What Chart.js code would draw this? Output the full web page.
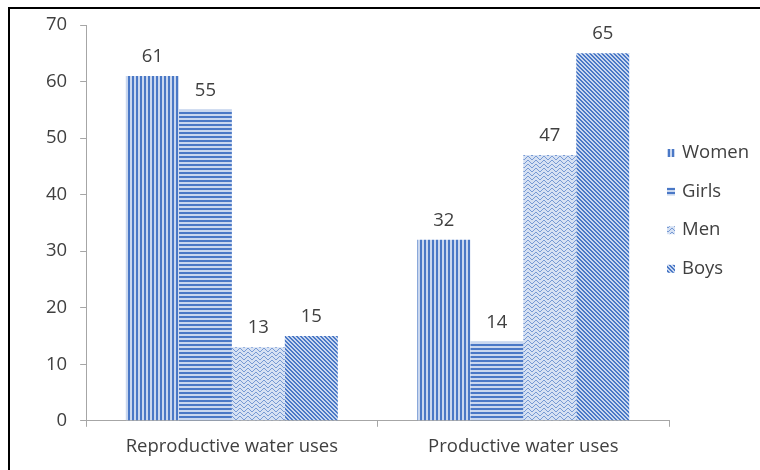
<!DOCTYPE html>
<html>
<head>
<meta charset="utf-8">
<script src="https://cdn.jsdelivr.net/npm/chart.js@4.4.1/dist/chart.umd.min.js"></script>
<style>
    html, body { margin: 0; padding: 0; background: #fff; }
    #wrap { position: relative; width: 760px; height: 470px; }
    #frame {
        position: absolute; left: 8px; top: 7px; right: -4px; bottom: -4px;
        border-left: 2px solid #000; border-top: 2px solid #000;
        pointer-events: none;
    }
    canvas { position: absolute; left: 0; top: 0; }
</style>
</head>
<body>
<div id="wrap">
    <canvas id="chart" width="760" height="470"></canvas>
    <div id="frame"></div>
</div>
<script>
const categories = ['Reproductive water uses', 'Productive water uses'];
const seriesNames = ['Women', 'Girls', 'Men', 'Boys'];
const women = [61, 32];
const girls = [55, 14];
const men = [13, 47];
const boys = [15, 65];
const yTicks = [0, 10, 20, 30, 40, 50, 60, 70];

const FONT = '"Open Sans", sans-serif';
const FONT_SIZE = 18.5;
const TEXT = '#404040';

// Small fill patterns, like the Excel pattern fills
function makePattern(kind) {
    const size = kind === 'men' ? 8 : 4;
    const c = document.createElement('canvas');
    c.width = size;
    c.height = size;
    const g = c.getContext('2d');
    const dark = '#4A78C6';
    const light = '#C9D7EF';
    g.fillStyle = light;
    g.fillRect(0, 0, size, size);
    g.fillStyle = dark;
    for (let x = 0; x < size; x++) {
        for (let y = 0; y < size; y++) {
            let on = false;
            if (kind === 'women') on = x % 4 < 2;
            if (kind === 'girls') on = y % 4 < 2;
            if (kind === 'boys') on = ((x - y) % 4 + 4) % 4 < 2;
            if (kind === 'men') {
                const zig = x < 4 ? x : 7 - x;
                on = (y === zig || y === (zig + 4) % 8);
            }
            if (on) g.fillRect(x, y, 1, 1);
        }
    }
    if (kind === 'men') {
        // lighter weave
        g.fillStyle = 'rgba(255,255,255,0.25)';
        g.fillRect(0, 0, size, size);
    }
    return g.createPattern(c, 'repeat');
}

const fills = {
    Women: makePattern('women'),
    Girls: makePattern('girls'),
    Men: makePattern('men'),
    Boys: makePattern('boys')
};

const valueLabels = {
    id: 'valueLabels',
    afterDatasetsDraw(chart) {
        const ctx = chart.ctx;
        ctx.save();
        ctx.font = FONT_SIZE + 'px ' + FONT;
        ctx.fillStyle = TEXT;
        ctx.textAlign = 'center';
        ctx.textBaseline = 'alphabetic';
        chart.data.datasets.forEach((ds, i) => {
            chart.getDatasetMeta(i).data.forEach((bar, j) => {
                ctx.fillText(ds.data[j], bar.x, bar.y - 14);
            });
        });
        ctx.restore();
    }
};

const sideLegend = {
    id: 'sideLegend',
    afterDraw(chart) {
        const ctx = chart.ctx;
        ctx.save();
        ctx.font = FONT_SIZE + 'px ' + FONT;
        ctx.textBaseline = 'middle';
        chart.data.datasets.forEach((ds, i) => {
            const y = 153 + i * 38.6;
            ctx.fillStyle = ds.backgroundColor;
            ctx.fillRect(667, y - 4, 8, 8);
            ctx.fillStyle = TEXT;
            ctx.fillText(ds.label, 682, y);
        });
        ctx.restore();
    }
};

const seriesData = [women, girls, men, boys];

new Chart(document.getElementById('chart'), {
    type: 'bar',
    data: {
        labels: categories,
        datasets: seriesNames.map((name, i) => ({
            label: name,
            data: seriesData[i],
            backgroundColor: fills[name],
            borderWidth: 0,
            categoryPercentage: 0.727,
            barPercentage: 1
        }))
    },
    options: {
        responsive: false,
        animation: false,
        layout: { padding: { left: 33, right: 91, top: 25, bottom: 3 } },
        plugins: {
            legend: { display: false },
            tooltip: { enabled: false }
        },
        scales: {
            x: {
                offset: true,
                grid: {
                    offset: true,
                    drawOnChartArea: false,
                    drawTicks: true,
                    tickLength: 6,
                    color: '#A6A6A6'
                },
                border: { color: '#A6A6A6', width: 1 },
                ticks: {
                    color: TEXT,
                    font: { family: FONT, size: FONT_SIZE },
                    padding: 9
                }
            },
            y: {
                min: 0,
                max: 70,
                afterBuildTicks(scale) {
                    scale.ticks = yTicks.map(v => ({ value: v }));
                },
                grid: {
                    drawOnChartArea: false,
                    drawTicks: true,
                    tickLength: 6,
                    color: '#A6A6A6'
                },
                border: { color: '#A6A6A6', width: 1 },
                ticks: {
                    color: TEXT,
                    font: { family: FONT, size: FONT_SIZE },
                    padding: 13
                }
            }
        }
    },
    plugins: [valueLabels, sideLegend]
});
</script>
</body>
</html>
